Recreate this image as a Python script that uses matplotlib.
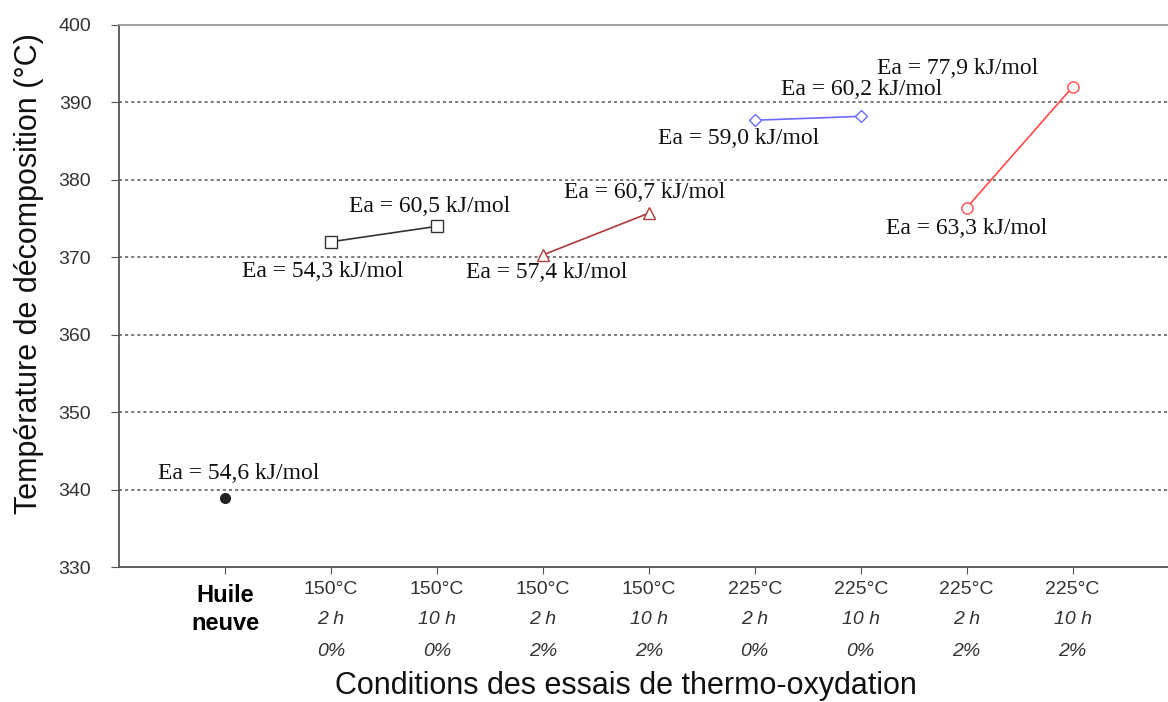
import matplotlib
matplotlib.use('Agg')
import matplotlib.pyplot as plt
from matplotlib.transforms import blended_transform_factory

plt.rcParams['font.family'] = ['Liberation Sans', 'DejaVu Sans']

# categories on x axis
temp_labels = ['150°C', '150°C', '150°C', '150°C', '225°C', '225°C', '225°C', '225°C']
time_labels = ['2 h', '10 h', '2 h', '10 h', '2 h', '10 h', '2 h', '10 h']
pct_labels = ['0%', '0%', '2%', '2%', '0%', '0%', '2%', '2%']

# decomposition temperatures (°C)
new_oil = 338.9
t150_0 = [372.0, 374.0]
t150_2 = [370.3, 375.7]
t225_0 = [387.7, 388.2]
t225_2 = [376.4, 392.0]

# activation energy labels
ea_new = 'Ea = 54,6 kJ/mol'
ea_150_0 = ['Ea = 54,3 kJ/mol', 'Ea = 60,5 kJ/mol']
ea_150_2 = ['Ea = 57,4 kJ/mol', 'Ea = 60,7 kJ/mol']
ea_225_0 = ['Ea = 59,0 kJ/mol', 'Ea = 60,2 kJ/mol']
ea_225_2 = ['Ea = 63,3 kJ/mol', 'Ea = 77,9 kJ/mol']

fig = plt.figure(figsize=(11.68, 7.02), dpi=100)
ax = fig.add_axes([0.1019, 0.1923, 0.8981, 0.7721])

ax.plot([0], [new_oil], 'o', color='#222222', markersize=7)
ax.plot([1, 2], t150_0, '-s', color='#333333', mfc='white', markersize=8, lw=1.2)
ax.plot([3, 4], t150_2, '-^', color='#b03a3a', mfc='white', markersize=9, lw=1.2)
ax.plot([5, 6], t225_0, '-D', color='#6a6aff', mfc='white', markersize=6.5, lw=1.2)
ax.plot([7, 8], t225_2, '-o', color='#ff4a4a', mfc='white', markersize=8, lw=1.2)

tfont = dict(family='Liberation Serif', fontsize=17, color='#111111', ha='center', va='center')
ax.text(0.13, 342.1, ea_new, **tfont)
ax.text(0.92, 368.2, ea_150_0[0], **tfont)
ax.text(1.93, 376.5, ea_150_0[1], **tfont)
ax.text(3.04, 368.0, ea_150_2[0], **tfont)
ax.text(3.96, 378.4, ea_150_2[1], **tfont)
ax.text(4.85, 385.4, ea_225_0[0], **tfont)
ax.text(6.01, 391.7, ea_225_0[1], **tfont)
ax.text(7.0, 373.7, ea_225_2[0], **tfont)
ax.text(6.91, 394.4, ea_225_2[1], **tfont)

ax.set_xlim(-1, 8.9)
ax.set_ylim(330, 400)
ax.set_yticks(range(330, 401, 10))
ax.set_xticks(range(0, 9))
ax.set_xticklabels([''] * 9)
ax.tick_params(axis='both', direction='out', length=5, color='#555555', labelsize=14,
               labelcolor='#333333')
ax.tick_params(axis='y', length=6, pad=14)
for y in range(340, 400, 10):
    ax.axhline(y, color='#555555', ls=(0, (2, 2)), lw=1.1, zorder=0)

for s in ['left', 'bottom']:
    ax.spines[s].set_color('#555555')
    ax.spines[s].set_linewidth(1.3)
ax.spines['top'].set_color('#999999')
ax.spines['top'].set_linewidth(1.3)
ax.spines['right'].set_visible(False)

trans = blended_transform_factory(ax.transData, fig.transFigure)
lfont = dict(fontsize=14, color='#333333', ha='center', va='center')
ax.text(0, 1 - 596 / 702, 'Huile', transform=trans, fontweight='bold',
        **{**lfont, 'color': '#000000', 'fontsize': 17})
ax.text(0, 1 - 624 / 702, 'neuve', transform=trans, fontweight='bold',
        **{**lfont, 'color': '#000000', 'fontsize': 17})
for i in range(8):
    ax.text(i + 1, 1 - 590 / 702, temp_labels[i], transform=trans, **lfont)
    ax.text(i + 1, 1 - 620 / 702, time_labels[i], transform=trans, style='italic', **lfont)
    ax.text(i + 1, 1 - 652 / 702, pct_labels[i], transform=trans, style='italic', **lfont)

fig.text(626 / 1168, 1 - 686 / 702, 'Conditions des essais de thermo-oxydation',
         fontsize=22, ha='center', va='center', color='#111111')
fig.text(29 / 1168, 1 - 274 / 702, 'Température de décomposition (°C)', rotation=90,
         fontsize=22, ha='center', va='center', color='#111111')

fig.savefig('out.png', dpi=100)
